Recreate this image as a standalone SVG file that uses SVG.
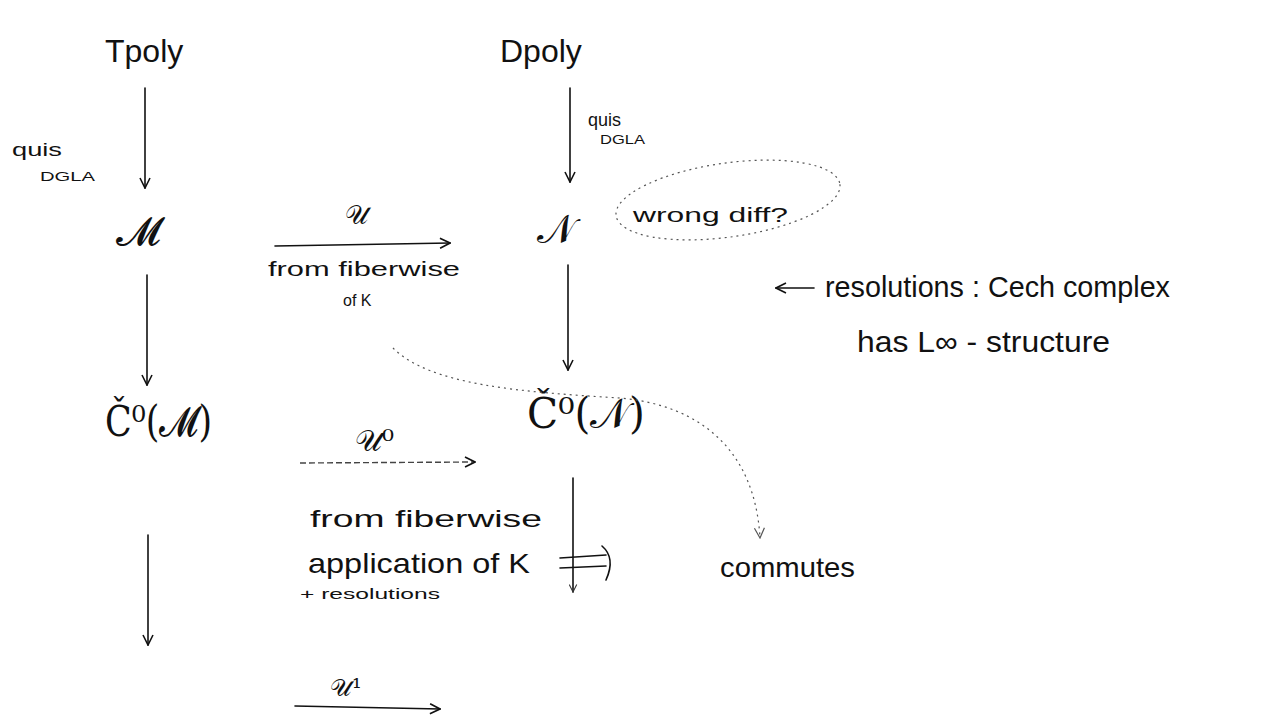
<svg xmlns="http://www.w3.org/2000/svg" width="1284" height="719" viewBox="0 0 1284 719">
<defs>
<style>
.t{font-family:"Liberation Sans","DejaVu Sans",sans-serif;fill:#111}
.m{font-family:"DejaVu Serif","DejaVu Sans",serif;fill:#111}
.ln{stroke:#111;stroke-width:1.6;fill:none;stroke-linecap:round}
.dot{stroke:#555;stroke-width:1.2;fill:none;stroke-dasharray:2 4}
.faint{stroke:#444;stroke-width:1.4;fill:none;stroke-dasharray:6 3}
</style>
<marker id="ah" viewBox="0 0 12 12" refX="11" refY="6" markerWidth="12" markerHeight="12" markerUnits="userSpaceOnUse" orient="auto">
<polyline points="1,1 11,6 1,11" fill="none" stroke="#111" stroke-width="1.6"/>
</marker>
<marker id="ahs" viewBox="0 0 12 12" refX="11" refY="6" markerWidth="9" markerHeight="9" markerUnits="userSpaceOnUse" orient="auto">
<polyline points="1,1 11,6 1,11" fill="none" stroke="#333" stroke-width="1.4"/>
</marker>
<marker id="ahd" viewBox="0 0 12 12" refX="11" refY="6" markerWidth="12" markerHeight="12" markerUnits="userSpaceOnUse" orient="auto">
<polyline points="1,1 11,6 1,11" fill="none" stroke="#555" stroke-width="1.2"/>
</marker>
</defs>
<rect width="1284" height="719" fill="#fff"/>

<g id="Tpoly"><text class="t" x="105" y="62" font-size="32">Tpoly</text></g>
<g id="Dpoly"><text class="t" x="500" y="62" font-size="32">Dpoly</text></g>
<g id="M"><text class="m" x="138" y="245" font-size="40" text-anchor="middle">𝓜</text></g>
<g id="N"><text class="m" x="556" y="243" font-size="40" text-anchor="middle">𝒩</text></g>
<g id="CM"><text class="m" x="105" y="436" font-size="42" textLength="107" lengthAdjust="spacingAndGlyphs">Č⁰(𝓜)</text></g>
<g id="CN"><text class="m" x="527" y="428" font-size="42" textLength="118" lengthAdjust="spacingAndGlyphs">Č⁰(𝒩)</text></g>
<g id="commutes"><text class="t" x="720" y="577" font-size="28" textLength="135" lengthAdjust="spacingAndGlyphs">commutes</text></g>
<g id="note-wrong">
<ellipse class="dot" cx="728" cy="200" rx="113" ry="37" transform="rotate(-8 728 200)"/>
<text class="t" x="633" y="222" font-size="20" textLength="155" lengthAdjust="spacingAndGlyphs">wrong diff?</text>
</g>
<g id="note-resolutions">
<text class="t" x="825" y="297" font-size="30" textLength="345" lengthAdjust="spacingAndGlyphs">resolutions : Cech complex</text>
<text class="t" x="857" y="352" font-size="30" textLength="253" lengthAdjust="spacingAndGlyphs">has L∞ - structure</text>
</g>

<g id="connectors">
<line class="ln" x1="145" y1="88" x2="145" y2="188" marker-end="url(#ah)"/>
<line class="ln" x1="570" y1="88" x2="570" y2="182" marker-end="url(#ah)"/>
<line class="ln" x1="275" y1="246" x2="450" y2="243" marker-end="url(#ah)"/>
<line class="ln" x1="147" y1="275" x2="147" y2="385" marker-end="url(#ah)"/>
<line class="ln" x1="568" y1="265" x2="568" y2="370" marker-end="url(#ah)"/>
<line class="ln" x1="814" y1="288" x2="776" y2="288" marker-end="url(#ah)"/>
<line class="faint" x1="300" y1="463" x2="475" y2="462" marker-end="url(#ah)"/>
<line class="ln" x1="148" y1="535" x2="148" y2="645" marker-end="url(#ah)"/>
<line class="ln" x1="573" y1="478" x2="573" y2="592" stroke-width="1.2" marker-end="url(#ahs)"/>
<line class="ln" x1="295" y1="706" x2="440" y2="709" marker-end="url(#ah)"/>
<path class="ln" d="M560 558 L606 555 M560 568 L606 566 M602 546 Q616 558 606 580"/>
<path class="dot" d="M393 348 C430 385 520 392 620 398 C700 405 755 450 760 538" marker-end="url(#ahd)"/>
</g>

<g id="labels">
<text class="t" x="12" y="156" font-size="18" textLength="50" lengthAdjust="spacingAndGlyphs">quis</text>
<text class="t" x="40" y="181" font-size="13" textLength="55" lengthAdjust="spacingAndGlyphs">DGLA</text>
<text class="t" x="588" y="126" font-size="18">quis</text>
<text class="t" x="600" y="144" font-size="13" textLength="45" lengthAdjust="spacingAndGlyphs">DGLA</text>
<text class="m" x="345" y="224" font-size="26">𝒰</text>
<text class="t" x="268" y="276" font-size="20" textLength="192" lengthAdjust="spacingAndGlyphs">from fiberwise</text>
<text class="t" x="343" y="306" font-size="16">of K</text>
<text class="m" x="355" y="451" font-size="30">𝒰⁰</text>
<text class="t" x="310" y="527" font-size="24" textLength="232" lengthAdjust="spacingAndGlyphs">from fiberwise</text>
<text class="t" x="308" y="573" font-size="28" textLength="222" lengthAdjust="spacingAndGlyphs">application of K</text>
<text class="t" x="300" y="599" font-size="14" textLength="140" lengthAdjust="spacingAndGlyphs">+ resolutions</text>
<text class="m" x="330" y="696" font-size="24">𝒰¹</text>
</g>
</svg>
